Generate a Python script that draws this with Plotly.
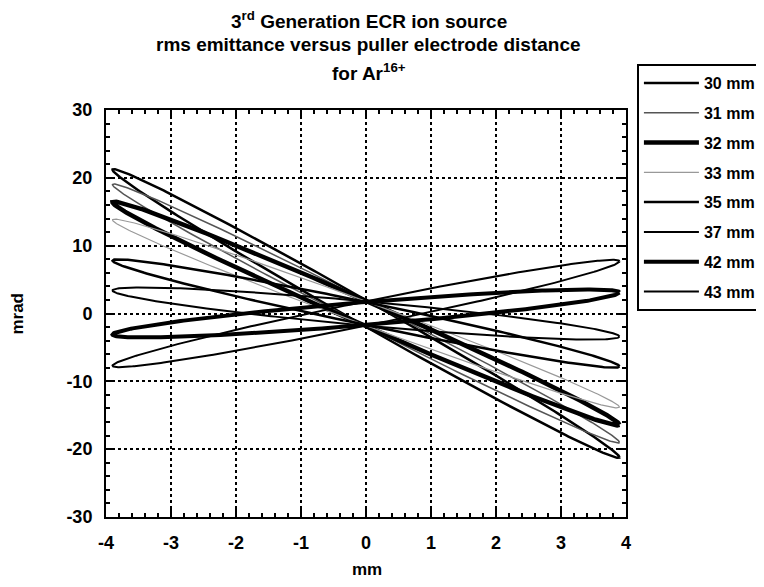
import numpy as np
import plotly.graph_objects as go

# Puller electrode distances (legend labels)
labels = ["30 mm", "31 mm", "32 mm", "33 mm", "35 mm", "37 mm", "42 mm", "43 mm"]
# Ellipse tip: x half-extent (mm) and y at that tip (mrad)
x_tip = [3.9, 3.9, 3.9, 3.9, 3.9, 3.9, 3.9, 3.9]
y_tip = [-21.2, -19.0, -16.4, -13.8, -7.8, -3.4, 3.1, 7.7]
# half-height of ellipse at x = 0 (mrad)
y_mid = [2.0, 1.9, 1.9, 1.8, 1.7, 1.8, 1.7, 1.8]
# axis ticks
x_ticks = [-4, -3, -2, -1, 0, 1, 2, 3, 4]
x_tick_text = ["-4", "-3", "-2", "-1", "0", "1", "2", "3", "4"]
y_ticks = [-30, -20, -10, 0, 10, 20, 30]
y_tick_text = ["-30", "-20", "-10", "0", "10", "20", "30"]

# styles
colors = ["black", "#555555", "black", "#999999", "black", "black", "black", "black"]
widths = [2.5, 1.5, 4.5, 1.2, 2.5, 2.0, 4.0, 2.0]

t = np.linspace(0, 2 * np.pi, 361)

fig = go.Figure()
for i, lab in enumerate(labels):
    xs = x_tip[i] * np.cos(t)
    ys = y_tip[i] * np.cos(t) + y_mid[i] * np.sin(t)
    fig.add_trace(go.Scatter(
        x=xs, y=ys, mode="lines", name="<b>" + lab + "</b>&nbsp;&nbsp;&nbsp;", legendgroup=lab,
        line=dict(color=colors[i], width=widths[i]),
        hoverinfo="skip",
    ))

font_fam = "Liberation Sans, Arial, sans-serif"
axis_common = dict(
    showline=True, linecolor="black", linewidth=2, mirror="allticks",
    ticks="inside", ticklen=8, tickwidth=2, tickcolor="black",
    showgrid=True, gridcolor="black", griddash="dot", gridwidth=1.5,
    zeroline=False, ticklabelstandoff=8,
    tickfont=dict(family=font_fam, size=18, color="black", weight="bold"),
)

fig.update_xaxes(
    range=[-4, 4], tickvals=x_ticks, ticktext=x_tick_text,
    minor=dict(dtick=0.2, tick0=-4, ticks="inside", ticklen=4, tickwidth=1.5, tickcolor="black", showgrid=False),
    **axis_common,
)
fig.update_yaxes(
    range=[-30, 30], tickvals=y_ticks, ticktext=y_tick_text,
    minor=dict(dtick=2, tick0=-30, ticks="inside", ticklen=4, tickwidth=1.5, tickcolor="black", showgrid=False),
    **axis_common,
)

title_font = dict(family=font_fam, size=19, color="black")
ann = [
    dict(text="<b>3<sup>rd</sup> Generation ECR ion source</b>", x=0.505, y=1.221),
    dict(text="<b>rms emittance versus puller electrode distance</b>", x=0.505, y=1.160),
    dict(text="<b>for Ar<sup>16+</sup></b>", x=0.505, y=1.093),
]
annotations = [dict(a, xref="paper", yref="paper", xanchor="center", yanchor="middle",
                    showarrow=False, font=title_font) for a in ann]
annotations.append(dict(text="<b>mm</b>", x=0.502, y=-0.130, xref="paper", yref="paper",
                        xanchor="center", yanchor="middle", showarrow=False,
                        font=dict(family=font_fam, size=17, color="black")))
annotations.append(dict(text="<b>mrad</b>", x=-0.171, y=0.5, xref="paper", yref="paper",
                        xanchor="center", yanchor="middle", showarrow=False, textangle=-90,
                        font=dict(family=font_fam, size=17, color="black")))

fig.update_layout(
    width=756, height=579,
    paper_bgcolor="white", plot_bgcolor="white",
    margin=dict(l=98, r=138, t=102, b=70, autoexpand=False),
    annotations=annotations,
    showlegend=True,
    legend=dict(
        x=1.021, xanchor="left", y=1.113, yanchor="top",
        bordercolor="black", borderwidth=2, bgcolor="white",
        font=dict(family=font_fam, size=16, color="black"),
        tracegroupgap=6, itemwidth=55,
    ),
)

fig.write_html("out.html")
